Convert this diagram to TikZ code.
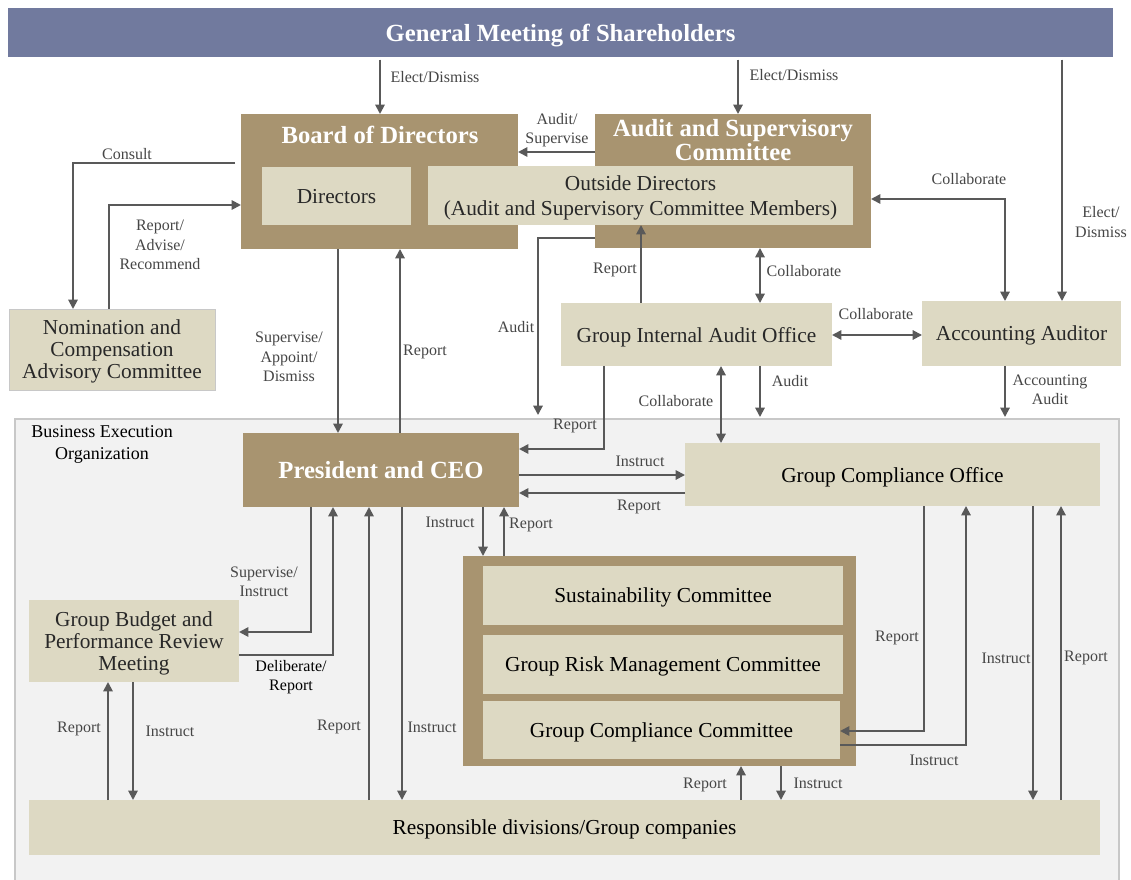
\documentclass[tikz,border=0pt]{standalone}
\usepackage{fontspec}
\setmainfont{Liberation Serif}
\usetikzlibrary{arrows.meta}
\definecolor{titleblue}{RGB}{113,122,158}
\definecolor{brownfill}{RGB}{168,148,112}
\definecolor{beige}{RGB}{221,217,195}
\definecolor{execbg}{RGB}{242,242,242}
\definecolor{execborder}{RGB}{200,200,200}
\definecolor{arrowgray}{RGB}{89,89,89}
\definecolor{labelgray}{RGB}{70,70,70}
\definecolor{textdark}{RGB}{40,40,40}
\begin{document}
\begin{tikzpicture}[x=0.75pt,y=-0.75pt,
  sz/.style 2 args={minimum width=#1*0.75pt, minimum height=#2*0.75pt},
  ttl/.style={fill=titleblue, text=white, inner sep=0, outer sep=0, text depth=0pt,
    font=\bfseries\fontsize{18.5}{18}\selectfont},
  bbox/.style={fill=brownfill, inner sep=0, outer sep=0},
  btitle/.style={text=white, inner sep=0, align=center,
    font=\bfseries\fontsize{18.5}{18}\selectfont},
  ibox/.style={fill=beige, inner sep=0, outer sep=0, text=textdark, align=center,
    text depth=0pt, font=\fontsize{16}{16.5}\selectfont},
  lbl/.style={text=labelgray, inner sep=1pt, align=center,
    font=\fontsize{12}{14.5}\selectfont},
  conn/.style={draw=arrowgray, line width=1.4pt},
  arr/.style={conn, -{Triangle[length=7pt,width=7pt]}},
  darr/.style={conn, {Triangle[length=7pt,width=7pt]}-{Triangle[length=7pt,width=7pt]}}
]
\useasboundingbox (0,0) rectangle (1131,880);
\fill[white] (0,0) rectangle (1131,880);

% Business execution region
\node[draw=execborder, fill=execbg, line width=0.8pt, inner sep=0, outer sep=0, sz={1104}{471}] (exec) at (567,654.5) {};
\node[text=black, align=center, inner sep=0, font=\fontsize{13.5}{16.5}\selectfont] (execT) at (102,444) {Business Execution\\Organization};

% Top
\node[ttl, sz={1105}{49}] (title) at (560.5,32.5) {General Meeting of Shareholders};

\node[bbox, sz={277}{135}] (board) at (379.5,181.5) {};
\node[btitle] (boardT) at (380,135) {Board of Directors};
\node[bbox, sz={276}{134}] (asc) at (733,181) {};
\node[btitle] (ascT) at (733,140) {Audit and Supervisory\\Committee};
\node[ibox, sz={149}{58}] (dirs) at (336.5,196) {Directors};
\node[ibox, sz={425}{59}, font=\fontsize{16}{19}\selectfont] (outside) at (640.5,195.5) {Outside Directors\\(Audit and Supervisory Committee Members)};

\node[ibox, draw=execborder, line width=0.6pt, sz={206}{81}] (nom) at (112,349.5) {Nomination and\\Compensation\\Advisory Committee};
\node[ibox, sz={271}{63}] (giao) at (696.5,334.5) {Group Internal Audit Office};
\node[ibox, sz={199}{65}] (accaud) at (1021.5,333.5) {Accounting Auditor};

% Execution
\node[bbox, sz={276}{74}, text=white, font=\bfseries\fontsize{18.5}{18}\selectfont] (ceo) at (381,470) {President and CEO};
\node[ibox, sz={415}{63}, text=black] (gco) at (892.5,474.5) {Group Compliance Office};
\node[bbox, sz={393}{210}] (comgrp) at (659.5,661) {};
\node[ibox, sz={360}{59}, text=black] (sus) at (663,595.5) {Sustainability Committee};
\node[ibox, sz={360}{59}, text=black] (risk) at (663,664.5) {Group Risk Management Committee};
\node[ibox, sz={357}{58}, text=black] (gcc) at (661.5,730) {Group Compliance Committee};
\node[ibox, sz={210}{82}] (budget) at (134,641) {Group Budget and\\Performance Review\\Meeting};
\node[ibox, sz={1071}{55}, text=black] (resp) at (564.5,827.5) {Responsible divisions/Group companies};

% Connectors
\draw[arr, shorten <=2pt] (title.south -| 380,0) -- (board.north -| 380,0);
\node[lbl] at (435,77) {Elect/Dismiss};
\draw[arr, shorten <=2pt] (title.south -| 738,0) -- (asc.north -| 738,0);
\node[lbl] at (794,75) {Elect/Dismiss};
\draw[arr, shorten <=2pt] (title.south -| 1062,0) -- (accaud.north -| 1062,0);
\node[lbl] at (1101,222) {Elect/\\Dismiss};

\draw[arr] (asc.west |- 0,152) -- (board.east |- 0,152);
\node[lbl] at (557,130) {Audit/\\Supervise};

\draw[arr, shorten <=4.5pt] (board.west |- 0,163) -| (nom.north -| 73,0);
\node[lbl] at (127,154) {Consult};
\draw[arr] (nom.north -| 109,0) |- (board.west |- 0,205);
\node[lbl] at (160,245) {Report/\\Advise/\\Recommend};

\draw[arr] (board.south -| 338,0) -- (ceo.north -| 338,0);
\node[lbl] at (289,357) {Supervise/\\Appoint/\\Dismiss};
\draw[arr] (ceo.north -| 400,0) -- (board.south -| 400,0);
\node[lbl] at (425,352) {Report};

\draw[arr, shorten >=3pt] (asc.west |- 0,238) -| (exec.north -| 538,0);
\node[lbl] at (516,327) {Audit};
\draw[arr] (giao.north -| 641,0) -- (outside.south -| 641,0);
\node[lbl] at (615,270) {Report};
\draw[darr] (asc.south -| 760,0) -- (giao.north -| 760,0);
\node[lbl] at (804,271) {Collaborate};
\draw[darr] (asc.east |- 0,199) -| (accaud.north -| 1005,0);
\node[lbl] at (969,179) {Collaborate};
\draw[darr] (giao.east |- 0,335) -- (accaud.west |- 0,335);
\node[lbl] at (876,314) {Collaborate};

\draw[arr] (giao.south -| 604,0) |- (ceo.east |- 0,449);
\node[lbl] at (575,426) {Report};
\draw[darr] (giao.south -| 721,0) -- (gco.north -| 721,0);
\node[lbl] at (676,401) {Collaborate};
\draw[arr, shorten >=1.5pt] (giao.south -| 760,0) -- (exec.north -| 760,0);
\node[lbl] at (790,381) {Audit};
\draw[arr, shorten >=1.5pt] (accaud.south -| 1005,0) -- (exec.north -| 1005,0);
\node[lbl] at (1050,390) {Accounting\\Audit};

\draw[arr] (ceo.east |- 0,475) -- (gco.west |- 0,475);
\node[lbl] at (640,461) {Instruct};
\draw[arr] (gco.west |- 0,493) -- (ceo.east |- 0,493);
\node[lbl] at (639,507) {Report};

\draw[arr] (ceo.south -| 483,0) -- (comgrp.north -| 483,0);
\node[lbl] at (450,522) {Instruct};
\draw[arr] (comgrp.north -| 504,0) -- (ceo.south -| 504,0);
\node[lbl] at (531,525) {Report};

\draw[arr] (ceo.south -| 311,0) |- (budget.east |- 0,632);
\node[lbl] at (264,582) {Supervise/\\Instruct};
\draw[arr] (budget.east |- 0,655) -| (ceo.south -| 333,0);
\node[lbl, text=black] at (291,677) {Deliberate/\\Report};

\draw[arr] (resp.north -| 369,0) -- (ceo.south -| 369,0);
\node[lbl] at (339,727) {Report};
\draw[arr] (ceo.south -| 402,0) -- (resp.north -| 402,0);
\node[lbl] at (432,727) {Instruct};

\draw[arr] (resp.north -| 108,0) -- (budget.south -| 108,0);
\node[lbl] at (79,729) {Report};
\draw[arr] (budget.south -| 133,0) -- (resp.north -| 133,0);
\node[lbl] at (170,731) {Instruct};

\draw[arr] (gco.south -| 924,0) |- (gcc.east |- 0,731);
\node[lbl] at (897,638) {Report};
\draw[arr] (gcc.east |- 0,745) -| (gco.south -| 966,0);
\node[lbl] at (934,760) {Instruct};
\draw[arr] (gco.south -| 1033,0) -- (resp.north -| 1033,0);
\node[lbl] at (1006,658) {Instruct};
\draw[arr] (resp.north -| 1061,0) -- (gco.south -| 1061,0);
\node[lbl] at (1086,658) {Report};

\draw[arr] (resp.north -| 741,0) -- (comgrp.south -| 741,0);
\node[lbl] at (705,785) {Report};
\draw[arr] (comgrp.south -| 781,0) -- (resp.north -| 781,0);
\node[lbl] at (818,783) {Instruct};
\end{tikzpicture}
\end{document}
